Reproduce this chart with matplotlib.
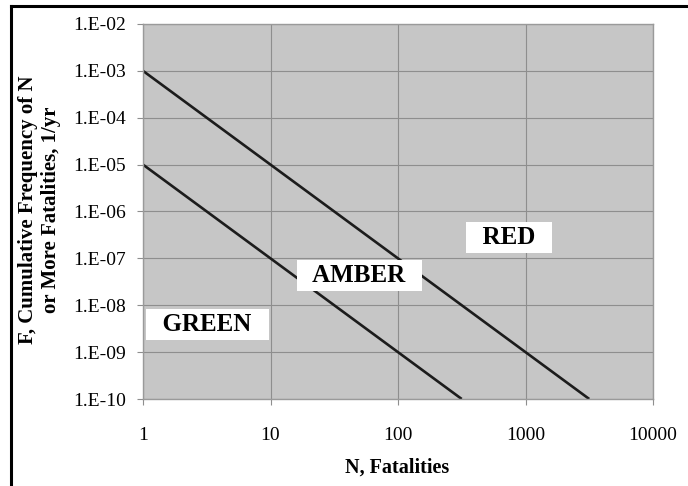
import matplotlib.pyplot as plt
from matplotlib.lines import Line2D
from matplotlib.ticker import FixedLocator, NullLocator

# F-N criterion lines (end points on the log-log grid)
upper_N = [1, 3162]
upper_F = [1e-3, 1e-10]
lower_N = [1, 316]
lower_F = [1e-5, 1e-10]

x_ticks = [1, 10, 100, 1000, 10000]
x_labels = ["1", "10", "100", "1000", "10000"]
y_ticks = [1e-10, 1e-9, 1e-8, 1e-7, 1e-6, 1e-5, 1e-4, 1e-3, 1e-2]
y_labels = ["1.E-10", "1.E-09", "1.E-08", "1.E-07", "1.E-06",
            "1.E-05", "1.E-04", "1.E-03", "1.E-02"]

zone_names = ["GREEN", "AMBER", "RED"]
zone_N = [3.2, 50, 740]
zone_F = [3.9e-9, 4.3e-8, 2.8e-7]

plt.rcParams["font.family"] = ["Liberation Serif", "DejaVu Serif"]

fig = plt.figure(figsize=(6.88, 4.86), dpi=100)
ax = fig.add_axes([143 / 688, 1 - 399 / 486, 510 / 688, 375 / 486])

ax.set_facecolor("#c6c6c6")
ax.set_xscale("log")
ax.set_yscale("log")
ax.set_xlim(1, 10000)
ax.set_ylim(1e-10, 1e-2)

ax.plot(upper_N, upper_F, color="#1c1c1c", lw=1.9, solid_capstyle="butt")
ax.plot(lower_N, lower_F, color="#1c1c1c", lw=1.9, solid_capstyle="butt")

ax.xaxis.set_major_locator(FixedLocator(x_ticks))
ax.yaxis.set_major_locator(FixedLocator(y_ticks))
ax.xaxis.set_minor_locator(NullLocator())
ax.yaxis.set_minor_locator(NullLocator())
ax.set_xticklabels(x_labels)
ax.set_yticklabels(y_labels)
ax.grid(True, color="#8e8e8e", lw=0.8)
ax.set_axisbelow(True)
ax.tick_params(axis="both", direction="out", length=4, width=0.8,
               color="#8e8e8e", labelsize=14)
ax.tick_params(axis="x", pad=16)
ax.tick_params(axis="y", pad=8)
for sp in ax.spines.values():
    sp.set_color("#9a9a9a")
    sp.set_linewidth(1.0)

for name, n, f in zip(zone_names, zone_N, zone_F):
    ax.text(n, f, "  " + name + "  ", fontsize=18, fontweight="bold",
            ha="center", va="center",
            bbox=dict(boxstyle="square,pad=0.17", fc="white", ec="none"))

fig.text(397 / 688, 1 - 468 / 486, "N, Fatalities", fontsize=14.5,
         fontweight="bold", ha="center", va="center")
fig.text(40 / 688, 1 - 210 / 486,
         "F, Cumulative Frequency of N\nor More Fatalities, 1/yr",
         fontsize=15, fontweight="bold", rotation=90,
         ha="center", va="center", linespacing=1.2)

# outer frame, only the top and left edges fall inside the image
fig.add_artist(Line2D([10.5 / 688, 10.5 / 688], [0, 1 - 6 / 486],
                      transform=fig.transFigure, color="black", lw=2.2))
fig.add_artist(Line2D([10.5 / 688, 1], [1 - 6 / 486, 1 - 6 / 486],
                      transform=fig.transFigure, color="black", lw=2.2))

fig.savefig("out.png", dpi=100)
